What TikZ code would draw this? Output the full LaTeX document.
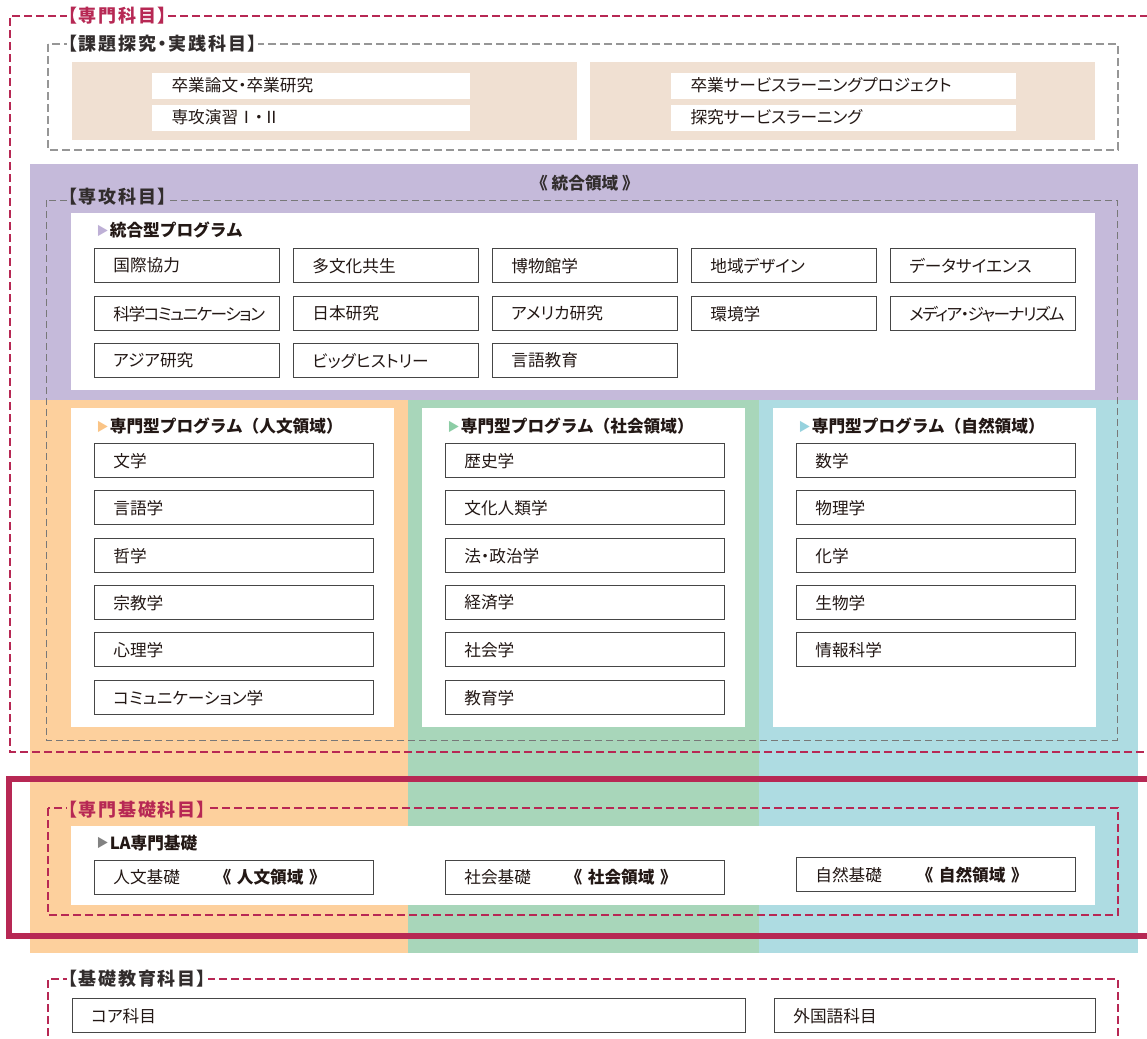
\documentclass[tikz,border=0pt]{standalone}
\usepackage{fontspec}
\setmainfont{Noto Sans CJK JP}[RawFeature=+palt]
\newfontfamily\headfont{Noto Sans CJK JP}

\definecolor{pinkline}{RGB}{183,40,84}
\definecolor{beigebg}{RGB}{240,224,210}
\definecolor{lavbg}{RGB}{197,186,218}
\definecolor{orangebg}{RGB}{253,208,157}
\definecolor{greenbg}{RGB}{168,214,186}
\definecolor{bluebg}{RGB}{174,220,226}
\definecolor{boxline}{RGB}{70,70,70}
\definecolor{ink}{RGB}{35,24,21}
\definecolor{headink}{RGB}{50,45,45}
\definecolor{graydash}{RGB}{150,150,150}
\definecolor{graythin}{RGB}{120,120,120}
\definecolor{trilav}{RGB}{190,176,214}
\definecolor{triorange}{RGB}{250,196,134}
\definecolor{trigreen}{RGB}{140,205,165}
\definecolor{triblue}{RGB}{150,210,222}
\definecolor{trigray}{RGB}{130,130,130}

\tikzset{every picture/.style={line width=0.75pt}}
\tikzset{
  subj/.style={draw=boxline, line width=1pt, fill=white, anchor=north west,
    minimum height=25.5pt, inner xsep=14pt, inner ysep=0pt, text width=#1,
    align=left, text=ink, font=\fontsize{12.5}{14}\selectfont},
  bar/.style={fill=white, anchor=north west, minimum height=19.5pt,
    inner xsep=15pt, inner ysep=0pt, text width=#1, align=left, text=ink,
    font=\fontsize{12.5}{14}\selectfont},
  tag/.style={anchor=west, inner xsep=1pt, inner ysep=0pt, text=headink,
    font=\bfseries\fontsize{13.5}{15}\selectfont\addfontfeatures{LetterSpace=10}},
  prog/.style={anchor=west, inner sep=0pt, text=ink,
    font=\headfont\bfseries\fontsize{12.5}{14}\selectfont},
  pinkdash/.style={draw=pinkline, line width=1.5pt, dash pattern=on 6pt off 3pt},
  graydashed/.style={draw=graydash, line width=1.5pt, dash pattern=on 6pt off 3pt},
  thindash/.style={draw=graythin, line width=0.75pt, dash pattern=on 5.25pt off 3pt},
}
\newcommand{\tri}[1]{\raisebox{1pt}{\color{#1}\fontsize{9}{9}\selectfont ▶}\hspace{1pt}}
\newcommand{\field}[1]{{\headfont\bfseries 《 #1 》}}
\newcommand{\tight}{\addfontfeatures{LetterSpace=-9}}

\begin{document}
\begin{tikzpicture}[x=0.75pt,y=0.75pt,yscale=-1,xscale=1]
  \path[use as bounding box, clip] (0,0) rectangle (1147,1039);

  %Shape: Rectangle (beige blocks)
  \fill[beigebg] (72,62) rectangle (577,140);
  \fill[beigebg] (590,62) rectangle (1095,140);
  %Shape: Rectangle (purple area)
  \fill[lavbg] (30,164) rectangle (1138,400);
  %Shape: Rectangle (three fields)
  \fill[orangebg] (30,400) rectangle (408,953);
  \fill[greenbg] (408,400) rectangle (759,953);
  \fill[bluebg] (759,400) rectangle (1138,953);
  %Shape: Rectangle (white panels)
  \fill[white] (71,213) rectangle (1095,390);
  \fill[white] (71,408) rectangle (394,727);
  \fill[white] (422,408) rectangle (745,727);
  \fill[white] (773,408) rectangle (1096,727);
  \fill[white] (71,826) rectangle (1095,905);

  %Dashed frames
  \draw[thindash] (46,200) rectangle (1117,740);
  \draw[pinkdash] (1160,16) -- (10,16) -- (10,752) -- (1160,752);
  \draw[pinkline, line width=4.5pt] (1160,779) -- (9,779) -- (9,936) -- (1160,936);
  \draw[pinkdash] (48,808) rectangle (1118,915);
  \draw[pinkdash] (48,1060) -- (48,979) -- (1118,979) -- (1118,1060);
  \draw[graydashed] (48,44) rectangle (1118,150);

  %Frame titles
  \node[tag, fill=white, text=pinkline] (senmon) at (66,16) {【専門科目】};
  \node[tag, fill=white] (kadai) at (66,44) {【課題探究・実践科目】};
  \node[tag, fill=lavbg] (senkou) at (66,197) {【専攻科目】};
  \node[tag, fill=orangebg, text=pinkline] (kiso) at (66,810) {【専門基礎科目】};
  \node[tag, fill=white] (kyouiku) at (66,979) {【基礎教育科目】};
  \node[text=headink, font=\headfont\bfseries\fontsize{12.5}{14}\selectfont] (tougou) at (585,183) {《 統合領域 》};

  %Project bars
  \node[bar=208.5pt] (sotsuron) at (151,72) {卒業論文・卒業研究};
  \node[bar=208.5pt] (enshu) at (151,104) {専攻演習Ⅰ・Ⅱ};
  \node[bar=228.75pt] (slproj) at (670,72) {卒業サービスラーニングプロジェクト};
  \node[bar=228.75pt] (tankyu) at (670,104) {探究サービスラーニング};

  %Integrated programmes
  \node[prog] (tgtitle) at (96,230) {\tri{trilav}統合型プログラム};
  \node[subj=110.75pt] (tg1) at (94,248) {国際協力};
  \node[subj=110.75pt] (tg2) at (293,248) {多文化共生};
  \node[subj=110.75pt] (tg3) at (492,248) {博物館学};
  \node[subj=110.75pt] (tg4) at (691,248) {地域デザイン};
  \node[subj=110.75pt] (tg5) at (890,248) {データサイエンス};
  \node[subj=110.75pt] (tg6) at (94,296) {{\tight 科学コミュニケーション}};
  \node[subj=110.75pt] (tg7) at (293,296) {日本研究};
  \node[subj=110.75pt] (tg8) at (492,296) {アメリカ研究};
  \node[subj=110.75pt] (tg9) at (691,296) {環境学};
  \node[subj=110.75pt] (tg10) at (890,296) {{\tight メディア・ジャーナリズム}};
  \node[subj=110.75pt] (tg11) at (94,343) {アジア研究};
  \node[subj=110.75pt] (tg12) at (293,343) {ビッグヒストリー};
  \node[subj=110.75pt] (tg13) at (492,343) {言語教育};

  %Humanities
  \node[prog] (jbtitle) at (96,426) {\tri{triorange}専門型プログラム（人文領域）};
  \node[subj=181.25pt] (jb1) at (94,443) {文学};
  \node[subj=181.25pt] (jb2) at (94,490) {言語学};
  \node[subj=181.25pt] (jb3) at (94,538) {哲学};
  \node[subj=181.25pt] (jb4) at (94,585) {宗教学};
  \node[subj=181.25pt] (jb5) at (94,632) {心理学};
  \node[subj=181.25pt] (jb6) at (94,680) {コミュニケーション学};

  %Social sciences
  \node[prog] (sktitle) at (447,426) {\tri{trigreen}専門型プログラム（社会領域）};
  \node[subj=181.25pt] (sk1) at (445,443) {歴史学};
  \node[subj=181.25pt] (sk2) at (445,490) {文化人類学};
  \node[subj=181.25pt] (sk3) at (445,538) {法・政治学};
  \node[subj=181.25pt] (sk4) at (445,585) {経済学};
  \node[subj=181.25pt] (sk5) at (445,632) {社会学};
  \node[subj=181.25pt] (sk6) at (445,680) {教育学};

  %Natural sciences
  \node[prog] (sztitle) at (798,426) {\tri{triblue}専門型プログラム（自然領域）};
  \node[subj=181.25pt] (sz1) at (796,443) {数学};
  \node[subj=181.25pt] (sz2) at (796,490) {物理学};
  \node[subj=181.25pt] (sz3) at (796,538) {化学};
  \node[subj=181.25pt] (sz4) at (796,585) {生物学};
  \node[subj=181.25pt] (sz5) at (796,632) {情報科学};

  %LA foundations
  \node[prog] (latitle) at (96,843) {\tri{trigray}LA専門基礎};
  \node[subj=181.25pt] (la1) at (94,860) {\makebox[76pt][l]{人文基礎}\field{人文領域}};
  \node[subj=181.25pt] (la2) at (445,860) {\makebox[76pt][l]{社会基礎}\field{社会領域}};
  \node[subj=181.25pt] (la3) at (796,857) {\makebox[76pt][l]{自然基礎}\field{自然領域}};

  %Basic education
  \node[subj=476.75pt] (core) at (72,998) {コア科目};
  \node[subj=212.75pt] (gaikoku) at (774,998) {外国語科目};
\end{tikzpicture}
\end{document}
